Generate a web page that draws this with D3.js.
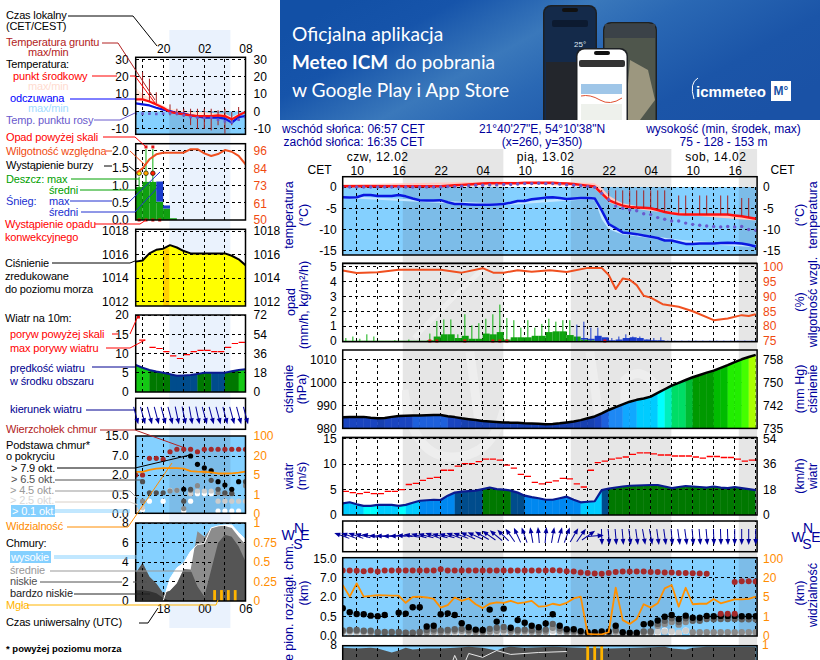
<!DOCTYPE html>
<html><head><meta charset="utf-8">
<script src="https://cdn.jsdelivr.net/npm/d3@7"></script>
<style>html,body{margin:0;padding:0;background:#fff;overflow:hidden}svg{display:block}text{font-family:"Liberation Sans",Arial,sans-serif}</style>
</head><body><svg id="c" width="820" height="660"></svg>
<script>
// ---------- main chart data (hour 8 = 12.02 08:00 local; one value per hour up to hour 67) ----------
const hoursMain = d3.range(8, 68);
const tempMean = [.2,.2,.2,.2,.2,.2,.2,.2,.2,.2, .2,.2,.2,.2,.2,.3,.4,.5,.6,.7, .8,.9,.9,.9,.9,.9,1,1,1,1, 1,.9,.8,.7,.5,.3,.1,-1.5,-3.1,-3.8, -4.4,-4.7,-4.8,-4.9,-5,-5.4,-5.9,-6.2,-6.4,-6.5, -6.5,-6.5,-6.5,-6.5,-6.5,-6.5,-6.7,-6.9,-7.2,-7.5];
const feelsLike = [-2.4,-2.5,-2.4,-1.9,-1.9,-2.1,-2.1,-2.1,-1.9,-2.2, -2.7,-3.1,-3.2,-3.2,-3.1,-3.6,-4,-4,-4.1,-4.2, -4.2,-4.2,-4.1,-4,-3.7,-3.3,-3.3,-2.9,-2.7,-2.5, -2.4,-2.6,-2.8,-2.7,-2.6,-2.6,-2.7,-5.5,-8.7,-9.7, -10.7,-10.9,-11.1,-11.4,-11.7,-12,-12.6,-12.6,-13,-13.4, -13.4,-13.3,-13.3,-13.3,-13.2,-13.1,-13.2,-13.3,-13.6,-14];
const dewPoint = [0,0,0,0,0,0,0,0,0,0, 0,0,0,0,0,.1,.1,.2,.3,.4, .4,.5,.5,.6,.6,.7,.8,.8,.9,.8, .8,.7,.5,.4,.3,.1,-.1,-1.5,-3,-4.5, -5,-5.4,-5.6,-6.3,-6.5,-7.2,-7.6,-8,-8,-8.5, -8.8,-9,-9.2,-9.3,-9.4,-9.3,-9.4,-9.3,-10,-10.2];
const bandHours = [8,30,43,44,45,46,47,48,50,56,67];
const tempBandHi = [.6,1.3,1,.9,-.2,-2,-3,-3.8,-4.5,-6,-7.1];
const tempBandLo = [.1,.8,.2,-.4,-1.9,-3.6,-4.2,-4.8,-5.2,-6.5,-7.9];
const feelsBandHi = [-2.1,-3.9,-2.3,-2.4,-5.3,-8.5,-9.5,-10.5,-11,-12.4,-13.8];
const feelsBandLo = [-2.6,-4.4,-2.9,-3.2,-7.6,-9.9,-10.6,-11.2,-11.6,-13,-14.2];
const soilHours = [45,46,47,48,49,50,51,52,53,54,56,57,59,60,62,63,65,66];
const soilMax = [-.7,-.8,-.8,-.8,-.8,-.8,-.8,-.8,-.8,-.8,-2,-2,-2,-2,-2,-2,-2.6,-2.6];
const soilMin = [-1.5,-3,-4,-4.5,-4.7,-4.8,-5,-5,-5.4,-5.9,-6.2,-6.4,-6.5,-6.5,-6.5,-6.5,-6.9,-7.2];
const humHours = [8,10,13,16,19,22,25,28,29.5,31,33,35,37.6,40,43,45,46,47,48,49,50,51,52,53.7,56,58,61,63,65,66,67];
const humidity = [98.7,97.9,98.1,99,99,99,98,99.5,98,98,98.8,98.3,98.8,98.2,99.6,99.6,97.2,92.5,96,95.6,93.8,90.2,89.6,87.4,86.5,85,82,82.6,83.7,83.4,84];
const rainMax = [.2,.3,.15,.45,.3,0,0,.05,0,.1, 0,0,.5,1.35,1.45,1.45,.45,1.8,1.05,1.2, 1.5,1.8,2.45,1.55,1.4,.9,1.4,.9,1.15,1.5, 1.3,1.4,1.4,0,0,0,0,0,0,0, 0,0,0,0,0,0,0,0,0,0, 0,0,0,0,0,0,0,0,0,0];
const snowMax = [0,0,0,0,0,0,0,0,0,0, 0,0,0,0,0,0,0,0,0,0, 0,0,0,0,0,0,0,0,0,0, 0,0,0,1.1,1.3,.9,.9,0,.2,.3, .45,.3,.3,.1,.2,.25,.02,.02,.02,.02, .02,.02,.02,.02,.02,.02,.02,.02,.02,.02];
const rainMean = [.02,.02,.02,.02,.02,.02,.02,.02,.02,.02, .02,.02,.05,.3,.45,.45,.2,.35,.15,.15, .5,.45,.6,.1,.25,.25,.25,.35,.35,.6, .65,.65,.4,.3,.1,.05,0,0,0,0, 0,0,0,0,0,0,0,0,0,0, 0,0,0,0,0,0,0,0,0,0];
const snowMean = [0,0,0,0,0,0,0,0,0,0, 0,0,0,0,0,0,0,0,0,0, 0,0,0,0,0,0,0,0,0,0, 0,0,0,0,.1,.1,.35,.25,.05,.1, .2,.25,.2,.1,.05,.05,.01,.01,.01,.01, .01,.01,.01,.01,.01,.01,.01,.01,.01,.01];
const convective = [20,21,25,29,30,31,45];
const pressure = [984.8,984.9,984.9,985,984.6,984.4,984.5,985,985.4,985.5, 985.6,985.6,985.7,985.8,985.8,985.3,984.9,984.4,984,983.6, 983.2,983,982.8,982.6,982.5,982.4,982.2,982.1,982,981.8, 981.9,982.2,982.6,983,983.6,984.4,985.2,986.5,988,989.2, 990.4,991.6,992.4,993,993.8,995.4,997,998.6,999.8,1001, 1002.2,1003.2,1004.2,1005.1,1006.3,1007.5,1008.8,1010,1011,1011.9];
const windMean = [2.3,2.5,2.1,1.8,1.8,2,2,2,1.8,2, 2.4,2.8,2.9,3,2.95,3.8,4.4,4.6,4.7,4.8, 5.1,5.4,5.1,5,4.8,4.4,3.8,3.5,3.3,3, 3,3.3,3.6,3,2.5,2.6,2.7,4.9,5.2,5.4, 5.6,5.75,5.8,5.85,5.9,5.9,5.6,5.3,5.5,5.7, 5.6,5.5,5.4,5.6,5.4,5.3,5.5,5.3,5.1,4.9];
const windGust = [4.65,4.4,4.2,4.45,4.2,4.2,4.65,4.65,5,6, 6.2,6.8,7.2,7.4,8.8,8.8,9.6,10.1,10.1,10.5, 11,11,10.8,9.8,9.2,8,7.6,6.4,6.1,6.4, 6.7,7.2,7.1,6.1,5.5,8.8,10.3,10.6,11,11.2, 11.4,11.9,12.2,12.2,12,11.8,11.8,11.6,11.6,11.6, 11.4,11.2,11.5,11.5,11.3,11.3,11,10.6,10.8,10.8];
const windDir = [290,290,290,285,280,272,270,268,270,275, 280,285,285,290,285,285,290,290,295,295, 300,305,310,315,325,335,340,350,355,5, 10,15,20,30,35,55,85,178,175,175, 175,173,172,170,170,172,172,175,172,172, 175,175,175,178,178,178,180,180,180,180];
const cloudTop = [10,10,9.9,9.7,10,9.6,10,10,10,10, 10,10,10,10,10.6,10,10,10,10,10, 10,10,10,10,10,10,10,10,10,10, 10.1,10,9.7,9.6,9.2,9,8.8,8.7,9,9.4, 9.6,9.6,9.6,9.6,9.4,9.4,9.2,9.2,9,9, 8.9,8.8,8.7,null,null,null,5.9,6.1,6.1,6];
const cloudTopLow = [62,63,64];
const cloudTopLowKm = [.7,.7,.7];
const cloud79 = [1.12,.81,.68,.66,.55,.5,.6,null,.78,.71, 1.2,1.2,.23,.25,.66,.73,.6,.32,.21,.15, .14,1.02,.36,1.1,.2,.4,.33,.25,.21,.31, .66,.25,.16,.16,.11,.08,.08,.1,.1,.25, .08,.07,.07,.29,.31,.39,.49,.6,.43,.55, .46,.46,.53,.5,.53,.53,.53,.5,.5,.5];
const cloud65 = [.13,.14,.14,.12,.12,.09,.09,.09,.09,.07, .07,.09,.14,.15,.13,.14,.16,.17,.14,.13, .12,.17,.2,.22,.15,.14,.15,.14,.13,.15, .3,.18,.12,.12,.09,null,.06,.06,null,.14, null,null,.05,.1,.1,.3,.38,.45,.35,.45, .38,.38,.43,.42,.43,.43,.43,.42,.42,.42];
const cloud45 = [.1,.11,.11,.1,.09,.07,.07,.07,.06,.06, .06,.06,.08,.1,.09,.1,.12,.12,.1,.09, .09,.1,.12,.13,.1,.1,.11,.1,.09,.1, .2,.12,.09,.08,.06,.04,.04,.04,.05,.1, .05,.05,.05,.08,.08,.25,.3,.35,.28,.35, .08,.08,.08,.08,.08,.08,.08,.08,.08,.08];
const cloud25 = [.08,.08,.08,.07,.05,null,null,null,null,null, .04,null,.05,.06,.06,.07,.09,.09,.08,.07, .06,.07,.08,.09,.08,.08,.08,.08,.06,.08, .12,.08,.05,.04,.03,.02,.02,.02,.03,.05, .03,.03,.03,.05,.05,.1,.1,.1,.07,.12, .06,.05,.05,.06,.06,.05,.05,.05,.05,.05];
const cloud01 = [.05,.05,.05,.04,.03,null,null,null,null,null, .03,.03,.03,.04,.04,.04,.05,.05,.05,.05, .04,.04,.05,.06,.05,.05,.06,.05,.04,.05, .05,.05,.03,.02,.02,.02,.02,.02,.03,.1, .02,.02,.02,.03,.03,.04,.12,.05,.04,.12, .05,.04,.04,.04,.04,.04,.04,.04,.04,.04];
const visibility = [14.3,5.3,15.6,5.3,5.8,6.5,6.3,6,6,3.8, 5,5.3,4.9,4.6,2.8,3.3,4.9,4.2,4.7,3.5, 2.7,3.6,3.9,3.8,4.2,3.7,3.9,4.2,3,3.1, 3.6,3.3,3.8,4.7,5.3,.07,.05,.05,.16,12.2, .8,.6,.86,3.5,2.8,3.7,11.7,14.3,3,12.2, 3.5,3.6,3.6,4.6,3.7,4.1,4.5,4.5,4.6,5.3];
const coverHours = [8,10,12,13,15,16,17,18,20,22,24,26,28,30,31,32,34,38,42,46,50,54,55,57,58,60,64,67];
const coverLow = [7.8,7.7,7.8,7.7,7.3,7.5,7.8,7.6,7.7,7.7,7.8,7.9,7.8,7.5,7.8,7.9,7.8,7.9,7.8,7.7,7.8,7.9,7.7,7.6,7.8,7.9,7.9,7.9];
const coverLineHours = [20,21,22,23,24,25,26,28,30,32,36,40];
const coverLine = [5.4,5.9,5.6,5,7,5.5,7.2,6.8,7.5,7.1,7.3,7.4];
const fogHours = [43,44,45];

const nights = [[16.58,30.95],[40.58,54.95],[64.58,67.2]];
const dayLabels = [{h:13,t:"czw, 12.02"},{h:37,t:"pią, 13.02"},{h:61.3,t:"sob, 14.02"}];

// ---------- sample (legend) chart data, hour 16..32 ----------
const hoursLeft = d3.range(16, 33);
const legendNight = [20.9,29.8];
const lTemp = [6.9,6.9,5.7,4,2.1,-.4,-1,-1.7,-2.3,-2.7,-2.7,-2.7,-2.3,-2.7,-4.6,-2.3,-.4];
const lFeels = [4.6,4,3.4,2.1,1,.2,-1,-1.3,-2.3,-2.9,-3.6,-3.6,-3.6,-4.2,-6.5,-3.3,-2.7];
const lDew = [-1.3,-1.3,-1.3,-1.5,-1.3,-1,-1.3,-2.3,-3.3,-3.6,-3.8,-3.6,-4.8,-5.7,-6.2,-4.8,-3.3];
const lTempBand = [13.6,10,8,5.4,3.4,1.5,1,.2,-.4,-.4,-.4,-1,-1.3,-1.3,-3.3,-1.3,.2];
const lSoilHours = [17,18,19,21,22,23,24,25,26,27,28,29,30,31];
const lSoilMax = [22.6,18.8,11,4,1.5,1.5,1.5,1.5,1.5,1.5,.6,1.5,-.4,2.5];
const lSoilMin = [6.3,5.4,4.4,-2.3,-2.3,-3.2,-8,-10,-10,-11,-8,-12.8,-8,-5.2];
const lHum = [81,84.3,90.3,93.6,94.7,94.7,94.7,94.7,97,97,94.2,92.5,93.8,96.4,95.3,92.5,87];
const lRain = [.95,1.1,1.1,.53,.33,.05];
const lSnow = [0,0,0,.58,.09,0];
const lRainMax = [1.25,2.05,2.05];
const lAboveScale = [17.5,18.5];
const lStorm = [16.5,17.5,18.5];
const lStormColors = ["#ffee00","#ffa500","#ff2000"];
const lConv = [16,17,18,19];
const lPress = [1015.4,1015.5,1016.1,1016.4,1016.5,1016.8,1016.6,1016.3,1016.1,1016.1,1016.1,1016.1,1016.1,1016.1,1015.9,1015.6,1015.1];
const lWind = [7,6.3,5.7,5.3,5,4.6,4.2,4.3,4.4,4.7,5,5,5,5,5.4,5.7,5.9];
const lWindColors = ["#14c814","#14c814","#007800","#007800","#007800","#004c8c","#004c8c","#004c8c","#004c8c","#007800","#007800","#004c8c","#004c8c","#007800","#007800","#14c814"];
const lGustHours = [16.5,18,19,20,21,22,23,24,25,26,27,28,29,30,31];
const lGust = [13.5,11.6,11.3,10.5,9.4,8.7,9.7,10.5,10.8,10.8,10.5,10.5,11.6,12.6,12.9];
const lDir = [165,165,165,165,165,165,168,168,170,168,165,165,165,165,165,165,165];
const lCloudTop = [2,2,6.4,6.4,6.1,8.7,9.7,9.7,9.7,8.7,9.7,9.7,9.7,9.7,9.7,9.7,9.7];
const l79 = [null,null,null,null,null,null,null,.93,7,4.8,3.9,3.1,1.5,1.25,.93,1.5,null];
const l65 = [null,1.5,.67,.67,.67,null,null,.33,.93,null,null,1.6,.93,.67,.62,null,1.5];
const l45 = [null,.33,null,null,null,.8,.85,.13,.85,1.2,3,3.2,.67,.6,.6,null,1.2];
const l25 = [.11,.15,null,null,null,.85,.85,null,.6,.8,.8,.8,.33,.33,.33,.33,.33];
const l01 = [.08,.1,.33,null,.33,null,null,.06,.33,.6,.6,.6,.06,.06,.06,.06,null];
const lVis = [7.5,7.5,9,10,10.5,10.5,10.5,10,8,7.6,7.4,7,6.2,6.2,6.3,6.8,7.6];
const lVeryLow = [1.1,1.1,1,.8,.3,0,0,0,0,0,0,0,0,0,0,0,0];
const lLow = [2.85,3.9,2.5,1.8,.8,1.05,1.8,3.25,3.2,1.5,.45,3.2,5.95,6.8,6.6,5.6,4.05];
const lMid = [2.85,3.9,2.5,1.8,.8,1.05,1.8,3.25,3.2,7.15,6.6,7.5,7.7,7.7,7.5,6.6,5.8];
const lHigh = [0,0,0,0,0,2.3,3.4,3.9,5.1,5.8,5.9,7.5,7.7,7.8,7.8,7,6.3];
const lFog = [27.5,28.5,29.5,30.5];
const lFogV = [.14,.14,.14,.14];

// ---------- tick labels ----------
const tempTicksMain = [0,-5,-10,-15];
const rainTicks = [0,1,2,3,4,5];
const humTicks = [75,80,85,90,95,100];
const pressTicks = [980,990,1000,1010];
const mmHgTicks = [735,742,750,758];
const windTicks = [0,5,10,15];
const kmhTicks = [0,18,36,54];
const cloudTicks = [0,.5,2,7,15];
const visTicks = [0,1,5,20,100];
const tempTicksLeft = [30,20,10,0,-10];
const lRainTicks = [0,.5,1,1.5,2];
const lHumTicks = [50,61,73,84,96];
const lPressTicks = [1012,1014,1016,1018];
const lWindTicks = [0,5,10,15,20];
const lKmhTicks = [0,18,36,54,72];
const coverTicks = [0,2,4,6,8];
const fogTicks = [0,.25,.5,.75,1];

// ---------- styles ----------
const NAVY="#00009c", SKY="#84d0ff", SKYN="#7cbce8", GRAYN="#e6e6e6", HUM="#f04a10", VIS="#ff8c00";
const svg=d3.select("#c");
const defs=svg.append("defs");
let clipN=0;
function clipRect(x,y,w,h){const id="cp"+(clipN++);defs.append("clipPath").attr("id",id).append("rect").attr("x",x).attr("y",y).attr("width",w).attr("height",h);return `url(#${id})`;}
function T(t,x,y,col,o={}){const e=svg.append("text").text(t).attr("x",x).attr("y",y).attr("fill",col||"#000").attr("font-size",o.s||11).attr("dominant-baseline","central");
 if(o.s==null)e.attr("letter-spacing",-.15);
 if(o.ls)e.attr("letter-spacing",o.ls);
 if(o.a)e.attr("text-anchor",o.a); if(o.w)e.attr("font-weight",o.w); if(o.f)e.style("font-family",o.f); if(o.r)e.attr("transform",`rotate(${o.r} ${x} ${y})`); return e;}
function L(pts,col,o={}){svg.append("path").attr("d",d3.line()(pts)).attr("fill","none").attr("stroke",col).attr("stroke-width",o.w||1);}
function yAxis(scale,vals,x,side,col,fmt,pad){
 const a=(side==="l"?d3.axisLeft(scale):d3.axisRight(scale)).tickValues(vals).tickSize(0).tickPadding(pad||6).tickFormat(fmt||(d=>d));
 const g=svg.append("g").attr("transform",`translate(${x},0)`).call(a);
 g.select(".domain").remove(); g.selectAll("text").attr("fill",col||"#000").attr("font-size",12).style("font-family",'"Liberation Sans",Arial,sans-serif');
}
function grid(x,y,hrs,vals,clip){
 const g=svg.append("g").attr("clip-path",clip).attr("stroke","#000").attr("stroke-width",1).attr("stroke-dasharray","3,3").attr("shape-rendering","crispEdges");
 g.selectAll(".v").data(hrs).join("line").attr("x1",d=>x(d)).attr("x2",d=>x(d)).attr("y1",y.range()[0]).attr("y2",y.range()[y.range().length-1]);
 g.selectAll(".h").data(vals).join("line").attr("x1",x.range()[0]).attr("x2",x.range()[1]).attr("y1",d=>y(d)).attr("y2",d=>y(d));
}
function frame(x0,x1,t,b){svg.append("rect").attr("x",x0).attr("y",t).attr("width",x1-x0).attr("height",b-t).attr("fill","none").attr("stroke","#000").attr("stroke-width",1.5);}
function lineOf(x,y,xs,ys,clip,col,w){return svg.append("path").datum(ys.map((v,i)=>[xs[i],v])).attr("fill","none").attr("stroke",col).attr("stroke-width",w).attr("clip-path",clip).attr("stroke-linejoin","round")
 .attr("d",d3.line().x(d=>x(d[0])).y(d=>y(d[1])));}
function areaOf(x,y,xs,hi,lo,clip,col){svg.append("path").datum(hi.map((v,i)=>[xs[i],v,Array.isArray(lo)?lo[i]:lo])).attr("fill",col).attr("clip-path",clip)
 .attr("d",d3.area().x(d=>x(d[0])).y0(d=>y(d[2])).y1(d=>y(d[1])));}
function dots(x,y,xs,vals,r,col,clip){svg.append("g").attr("clip-path",clip).selectAll("circle").data(vals.map((v,i)=>[xs[i],v]).filter(d=>d[1]!=null)).join("circle").attr("cx",d=>x(d[0])).attr("cy",d=>y(d[1])).attr("r",r).attr("fill",col);}
function arrows(x,yc,xs,dirs,len,hw){
 const g=svg.append("g").attr("fill",NAVY).attr("stroke",NAVY);
 const s=g.selectAll("g").data(dirs.map((d,i)=>[xs[i],d])).join("g").attr("transform",d=>`translate(${x(d[0])},${yc}) rotate(${d[1]})`);
 s.append("line").attr("y1",len/2).attr("y2",-len/2+2).attr("stroke-width",1);
 s.append("path").attr("d",`M0 ${-len/2-2} L${hw} ${-len/2+4} L${-hw} ${-len/2+4} Z`).attr("stroke","none");
}

// ---------- banner ----------
const bg=defs.append("linearGradient").attr("id","bn").attr("x1","0").attr("x2","1").attr("y1","0.3").attr("y2","0.7");
[[0,"#1250a6"],[.18,"#1654aa"],[.4,"#3a78bb"],[.55,"#2a68b4"],[.8,"#1b55a8"],[1,"#1a52a6"]].forEach(s=>bg.append("stop").attr("offset",s[0]).attr("stop-color",s[1]));
svg.append("rect").attr("x",280).attr("y",0).attr("width",540).attr("height",120).attr("fill","url(#bn)");
const bf="Lato,sans-serif";
T("Oficjalna aplikacja",292,33.5,"#fff",{s:19.2,f:bf});
T("Meteo ICM",292,61.5,"#fff",{s:19.2,f:bf,w:700}).attr("textLength",96).attr("lengthAdjust","spacingAndGlyphs");
T("do pobrania",395,61.5,"#fff",{s:19.2,f:bf});
T("w Google Play i App Store",292,89.5,"#fff",{s:19.2,f:bf});
function phone(x,y,w,fill){const g=svg.append("g").attr("clip-path",clipRect(280,0,540,120));
 g.append("rect").attr("x",x).attr("y",y).attr("width",w).attr("height",130).attr("rx",8).attr("fill","#1d2024");
 g.append("rect").attr("x",x+1.5).attr("y",y+1.5).attr("width",w-3).attr("height",130).attr("rx",7).attr("fill",fill);
 g.append("rect").attr("x",x+w/2-8).attr("y",y+3).attr("width",16).attr("height",4).attr("rx",2).attr("fill","#111");return g;}
const p1=phone(543,5,54,"#142a4a");
p1.append("rect").attr("x",552).attr("y",20).attr("width",36).attr("height",7).attr("rx",2).attr("fill","#0c1a30");
p1.append("text").text("25°").attr("x",574).attr("y",47).attr("fill","#dfe8f2").attr("font-size",8);
p1.append("rect").attr("x",546).attr("y",62).attr("width",48).attr("height",60).attr("fill","#23262c");
const p2=phone(603,22,54,"#4f564c");
p2.append("rect").attr("x",605).attr("y",24).attr("width",50).attr("height",14).attr("fill","#3b4248");
p2.append("path").attr("d","M630 60 L648 70 L655 100 L640 120 L625 120 Z").attr("fill","#9c977f");
const p3=phone(576,48,52,"#fff");
p3.append("rect").attr("x",579).attr("y",60).attr("width",46).attr("height",7).attr("rx",2).attr("fill","#333");
p3.append("rect").attr("x",581).attr("y",84).attr("width",41).attr("height",10).attr("fill","#9fc6e8");
p3.append("path").attr("d","M581 96 Q590 94 600 100 T622 98").attr("fill","none").attr("stroke","#e05030").attr("stroke-width",1);
p3.append("rect").attr("x",581).attr("y",104).attr("width",41).attr("height",16).attr("fill","#eef1ec");
T("icmmeteo",696,91,"#fff",{s:15,w:700});
svg.append("path").attr("d","M694 99 Q689 83 698 78").attr("fill","none").attr("stroke","#fff").attr("stroke-width",1);
svg.append("rect").attr("x",771).attr("y",81).attr("width",20).attr("height",20).attr("fill","#fff");
T("M°",781,91,"#1a52a6",{s:12,w:700,a:"middle"});

// ---------- header ----------
T("wschód słońca: 06:57 CET",282,128.5,NAVY,{s:12});
T("zachód słońca: 16:35 CET",283.5,141.5,NAVY,{s:12});
T("21°40'27\"E, 54°10'38\"N",542,128.5,NAVY,{s:12,a:"middle"});
T("(x=260,  y=350)",542,141.5,NAVY,{s:12,a:"middle"});
T("wysokość (min, środek, max)",723.5,128.5,NAVY,{s:12,a:"middle"});
T("75 - 128 - 153 m",723.5,141.5,NAVY,{s:12,a:"middle"});

// ---------- main chart ----------
const xM=d3.scaleLinear().domain([8,67.2]).range([342.7,757.1]);
const grid3=d3.range(10,68,3);
svg.selectAll(".nightM").data(nights).join("rect").attr("x",d=>xM(d[0])).attr("width",d=>xM(d[1])-xM(d[0])).attr("y",149).attr("height",511).attr("fill",GRAYN);
// faint watermark shapes inside the night bands
const wm=svg.append("g").attr("fill","none").attr("stroke","#eeeeee").attr("stroke-width",9).attr("clip-path",clipRect(402,262,103,260));
wm.append("path").attr("d","M404 390 Q412 455 450 457 Q492 458 504 410");
wm.append("path").attr("d","M470 352 L480 430");
wm.append("path").attr("d","M414 338 Q440 310 490 262").attr("stroke-width",5);
const wm2=svg.append("g").attr("fill","none").attr("stroke","#eeeeee").attr("stroke-width",9).attr("clip-path",clipRect(571,345,101,90));
wm2.append("path").attr("d","M590 352 L600 425");wm2.append("path").attr("d","M625 425 L625 380 Q640 365 655 385 L655 425");
dayLabels.forEach(d=>T(d.t,xM(d.h),157,"#000",{s:12,a:"middle",ls:.5}));
T("CET",319.5,170,"#000",{s:12,a:"middle"});T("CET",782.5,170,"#000",{s:12,a:"middle"});
const ha=d3.axisTop(xM).tickValues(d3.range(10,68,6)).tickSize(0).tickPadding(0).tickFormat(d=>d3.format("02")(d%24));
const hg=svg.append("g").attr("transform","translate(0,175)").call(ha);hg.select(".domain").remove();hg.selectAll("text").attr("font-size",12).attr("fill","#000").style("font-family",'"Liberation Sans"');

function nightFill(x,y0,y1,col,clip){svg.selectAll(null).data(nights).join("rect").attr("x",d=>x(d[0])).attr("width",d=>x(d[1])-x(d[0])).attr("y",y0).attr("height",y1-y0).attr("fill",col).attr("clip-path",clip);}
function rot(t,x,y,col,s){T(t,x,y,col||NAVY,{s:s||12.5,a:"middle",r:-90});}

// temperature
const cT=clipRect(342.7,176.7,414.4,78.3);
const yT=d3.scaleLinear().domain([0,-15]).range([187,250.7]);
svg.append("rect").attr("x",342.7).attr("width",414.4).attr("y",yT(0)).attr("height",255-yT(0)).attr("fill",SKY);
nightFill(xM,yT(0),255,SKYN,cT);
areaOf(xM,yT,bandHours,tempBandHi,tempBandLo,cT,"#ffc8c0");
areaOf(xM,yT,bandHours,feelsBandHi,feelsBandLo,cT,"#c4e6ff");
grid(xM,yT,grid3,tempTicksMain,cT);
lineOf(xM,yT,hoursMain,tempMean,cT,"#ff1010",2.5);
svg.append("g").attr("clip-path",cT).attr("stroke","#a52020").attr("stroke-width",1).selectAll("line").data(soilHours).join("line").attr("x1",d=>xM(d)).attr("x2",d=>xM(d)).attr("y1",(d,i)=>yT(soilMax[i])).attr("y2",(d,i)=>yT(soilMin[i]));
lineOf(xM,yT,hoursMain,feelsLike,cT,"#0a18e0",2.5);
dots(xM,yT,hoursMain,dewPoint,1.7,"#6a5acd",cT);
frame(342.7,757.1,176.7,255);
yAxis(yT,tempTicksMain,342.7,"l");yAxis(yT,tempTicksMain,757.1,"r");

// rain / humidity
const cR=clipRect(342.7,263,414.4,78.7);
const yR=d3.scaleLinear().domain([0,5]).range([341,266.7]);
const yH=d3.scaleLinear().domain([75,100]).range([341,266.7]);
grid(xM,yR,grid3,rainTicks.filter(d=>d>0),cR);
function barsRain(x,y,hs,vals,base,col,clip){svg.append("g").attr("clip-path",clip).attr("fill",col).selectAll("rect").data(hs.map((h,i)=>[h,vals[i],base?base[i]:0]).filter(d=>d[1]>0)).join("rect").attr("x",d=>x(d[0])).attr("width",d=>x(d[0]+1)-x(d[0])).attr("y",d=>y(d[1]+d[2])).attr("height",d=>y(d[2])-y(d[1]+d[2]));}
barsRain(xM,yR,hoursMain,rainMean,null,"#10a010",cR);
barsRain(xM,yR,hoursMain,snowMean,rainMean,"#1c3ccc",cR);
function spikes(hs,vals,col){svg.append("g").attr("stroke",col).attr("clip-path",cR).selectAll("line").data(hs.map((h,i)=>[h,vals[i]]).filter(d=>d[1]>0)).join("line").attr("x1",d=>xM(d[0]+.45)).attr("x2",d=>xM(d[0]+.45)).attr("y1",d=>yR(d[1])).attr("y2",yR(0));}
spikes(hoursMain,rainMax,"#10b010");spikes(hoursMain,snowMax,"#1c3ccc");
svg.append("g").attr("fill","#e01010").selectAll("rect").data(convective).join("rect").attr("x",d=>xM(d+.45)-1.5).attr("y",yR(0)-1.5).attr("width",3).attr("height",3);
lineOf(xM,yH,humHours,humidity,cR,"#f05020",2);
L([[342,262.5],[757,262.5]],"#888");
frame(342.7,757.1,263.5,341.7);
yAxis(yR,rainTicks,342.7,"l");yAxis(yH,humTicks,757.1,"r",HUM);

// pressure
const cP=clipRect(342.7,350,414.4,78.4);
const yP=d3.scaleLinear().domain([980,1010]).range([428.4,359.3]);
const yMM=d3.scaleLinear().domain(mmHgTicks).range([428.4,405.7,382.3,359.3]);
const pressColor=d3.scaleThreshold().domain([984.5,985.6,988,990,992,994,996,998,1000,1002,1005,1007,1009,1010.5]).range(["#1740b0","#1a45c0","#1e60dc","#1e88f4","#10a8ff","#00ccff","#00ffff","#00eebb","#00dd66","#00bb33","#009900","#00bb00","#22ee00","#44ff00","#aaff00"]);
grid(xM,yP,grid3,pressTicks,cP);
const idP="pa";defs.append("clipPath").attr("id",idP).append("path").attr("d",d3.area().x((d,i)=>xM(hoursMain[i])).y0(428.4).y1(d=>yP(d))(pressure));
svg.append("g").attr("clip-path",`url(#${idP})`).selectAll("rect").data(pressure).join("rect").attr("x",(d,i)=>xM(hoursMain[i])).attr("width",7.2).attr("y",350).attr("height",79).attr("fill",d=>pressColor(d));
lineOf(xM,yP,hoursMain,pressure,cP,"#000",2.5);
frame(342.7,757.1,350,428.4);
yAxis(yP,pressTicks,342.7,"l");yAxis(yMM,mmHgTicks,757.1,"r");

// wind
const cW=clipRect(342.7,437.7,414.4,77.3);
const yW=d3.scaleLinear().domain([0,15]).range([515,438.7]);
const yK=d3.scaleLinear().domain([0,54]).range([515,438.7]);
const windColor=d3.scaleThreshold().domain([2,2.8,4.2,5,6]).range(["#00ffff","#00ccff","#0088f0","#004c8c","#007800","#14c814"]);
const idW="wa";defs.append("clipPath").attr("id",idW).append("path").attr("d",d3.area().x((d,i)=>xM(hoursMain[i])).y0(515).y1(d=>yW(d))(windMean));
svg.append("g").attr("clip-path",`url(#${idW})`).selectAll("rect").data(windMean).join("rect").attr("x",(d,i)=>xM(hoursMain[i])).attr("width",7.2).attr("y",437).attr("height",78).attr("fill",d=>windColor(d));
grid(xM,yW,grid3,windTicks.filter(d=>d>0),cW);
lineOf(xM,yW,hoursMain,windMean,cW,"#0a1a90",2.2);
svg.append("g").attr("clip-path",cW).attr("stroke","#ff0000").attr("stroke-width",1.3).selectAll("line").data(windGust).join("line").attr("x1",(d,i)=>xM(hoursMain[i])).attr("x2",(d,i)=>xM(hoursMain[i]+.9)).attr("y1",d=>yW(d)).attr("y2",d=>yW(d));
L([[342,436.8],[757,436.8]],"#888");
frame(342.7,757.1,437.7,515);
yAxis(yW,windTicks,342.7,"l");yAxis(yK,kmhTicks,757.1,"r");

// wind direction
const yD=d3.scaleLinear().domain([0,1]).range([551.7,521]);
grid(xM,yD,grid3,[],clipRect(342.7,521,414.4,30.7));
frame(342.7,757.1,521,551.7);
arrows(xM,536,hoursMain,windDir,14,2.4);

// clouds
const cC=clipRect(342.7,557.7,414.4,78.3);
const yC=d3.scaleLinear().domain([0,.5,2,7,15]).range([635.3,616.3,597,577.7,558.7]);
const yV=d3.scaleLinear().domain([0,1,5,20,100]).range([635.3,616.3,597,577.7,558.7]);
svg.append("rect").attr("x",342.7).attr("y",557.7).attr("width",414.4).attr("height",78.3).attr("fill",SKY);
nightFill(xM,557.7,636,SKYN,cC);
grid(xM,yC,grid3,cloudTicks.filter(d=>d>0&&d<15),cC);
dots(xM,yC,hoursMain,cloud01,3.2,"#ffffff",cC);
dots(xM,yC,hoursMain,cloud25,3.2,"#cccccc",cC);
dots(xM,yC,hoursMain,cloud45,3.2,"#8a8a8a",cC);
dots(xM,yC,hoursMain,cloud65,3.2,"#606060",cC);
dots(xM,yC,hoursMain,cloud79,3.2,"#000000",cC);
dots(xM,yC,hoursMain,cloudTop,3,"#a52a2a",cC);
dots(xM,yC,cloudTopLow,cloudTopLowKm,3,"#a52a2a",cC);
lineOf(xM,yV,hoursMain,visibility,cC,"#ff9000",1.8);
frame(342.7,757.1,557.7,636);
const fmt1=d=>d3.format(".1f")(d);
yAxis(yC,cloudTicks,342.7,"l","#000",fmt1);yAxis(yV,visTicks,757.1,"r",VIS);

// cloud cover (cut by the picture edge)
const cK=clipRect(342.7,645.7,414.4,20);
const yO=d3.scaleLinear().domain([0,8]).range([723.3,645.7]);
svg.append("rect").attr("x",342.7).attr("y",645.7).attr("width",414.4).attr("height",20).attr("fill",SKY);
areaOf(xM,yO,coverHours,coverLow,0,cK,"#4f4f4f");
grid(xM,yO,grid3,[],cK);
lineOf(xM,yO,coverLineHours,coverLine,cK,"#e8e8e8",1);
svg.append("g").attr("fill","#ffb400").attr("clip-path",cK).selectAll("rect").data(fogHours).join("rect").attr("x",d=>xM(d)-1.4).attr("width",2.8).attr("y",645.7).attr("height",20);
frame(342.7,757.1,645.7,668);
T("8",337,645,"#000",{s:12,a:"end"});T("1",762,645,VIS,{s:12});

// rotated labels
rot("temperatura",289,215);rot("(°C)",304,215);
rot("(°C)",800,215);rot("temperatura",813,215);
rot("opad",291,302);rot("(mm/h, kg/m²/h)",304,305);
rot("(%)",800,302);rot("wilgotność wzgl.",813,302);
rot("ciśnienie",289,389);rot("(hPa)",302,389);
rot("(mm Hg)",800,389);rot("ciśnienie",813,389);
rot("wiatr",289,476);rot("(m/s)",302,476);
rot("(km/h)",800,476);rot("wiatr",813,476);
rot("e pion. rozciągł. chm.",289,602);rot("(km)",304,593);
rot("(km)",800,593);rot("widzialność",813,595);
[[288,535,"W"],[299,528,"N"],[305,535,"E"],[298,544,"S"],[798,537,"W"],[808,528,"N"],[816,537,"E"],[807,544,"S"]].forEach(d=>T(d[2],d[0],d[1],NAVY,{s:14,a:"middle"}));

// ---------- sample chart ----------
const xL=d3.scaleLinear().domain([16,32]).range([135.7,245.5]);
const LW=109.8;
svg.append("rect").attr("x",xL(legendNight[0])).attr("width",xL(legendNight[1])-xL(legendNight[0])).attr("y",30).attr("height",598).attr("fill","#eaf2fd");
const lHrs=d3.range(17,33,3);
function lclip(t,b){return clipRect(135.7,t,LW,b-t);}
// temp
const cLT=lclip(57.3,134.3), yLT=d3.scaleLinear().domain([30,-10]).range([59.3,128.7]);
svg.append("rect").attr("x",135.7).attr("width",LW).attr("y",yLT(0)).attr("height",134.3-yLT(0)).attr("fill",SKY);
svg.append("rect").attr("x",xL(legendNight[0])).attr("width",xL(legendNight[1])-xL(legendNight[0])).attr("y",yLT(0)).attr("height",134.3-yLT(0)).attr("fill",SKYN);
areaOf(xL,yLT,hoursLeft,lTempBand,lTemp,cLT,"#ffe4d8");
grid(xL,yLT,lHrs,tempTicksLeft,cLT);
svg.append("g").attr("stroke","#a52020").attr("clip-path",cLT).selectAll("line").data(lSoilHours).join("line").attr("x1",d=>xL(d)).attr("x2",d=>xL(d)).attr("y1",(d,i)=>yLT(lSoilMax[i])).attr("y2",(d,i)=>yLT(lSoilMin[i]));
lineOf(xL,yLT,hoursLeft,lFeels,cLT,"#0a18e0",2.2);
lineOf(xL,yLT,hoursLeft,lTemp,cLT,"#ff1010",2.2);
svg.append("g").attr("fill","#6a5acd").attr("clip-path",cLT).selectAll("rect").data(lDew).join("rect").attr("x",(d,i)=>xL(hoursLeft[i])-1.3).attr("y",d=>yLT(d)-1.3).attr("width",2.6).attr("height",2.6);
frame(135.7,245.5,57.3,134.3);
yAxis(yLT,tempTicksLeft,135.7,"l","#000",null,7);yAxis(yLT,tempTicksLeft,245.5,"r","#000",null,8);
// rain
const cLR=lclip(143.7,220), yLR=d3.scaleLinear().domain([0,2]).range([220,150.7]), yLH=d3.scaleLinear().domain([50,96]).range([220,150.7]);
grid(xL,yLR,lHrs,lRainTicks.filter(d=>d>0),cLR);
const lRainHours=hoursLeft.slice(0,6);
barsRain(xL,yLR,lRainHours,lRain,null,"#10a010",cLR);
barsRain(xL,yLR,lRainHours,lSnow,lRain,"#1c3ccc",cLR);
svg.append("g").attr("stroke","#10b010").selectAll("line").data(lRainMax).join("line").attr("x1",(d,i)=>xL(lStorm[i])).attr("x2",(d,i)=>xL(lStorm[i])).attr("y1",d=>yLR(d)).attr("y2",yLR(.9));
svg.append("g").attr("fill","#e01010").selectAll("rect").data(lAboveScale).join("rect").attr("x",d=>xL(d)-1.5).attr("y",145.5).attr("width",3).attr("height",3);
svg.append("g").selectAll("circle").data(lStorm).join("circle").attr("cx",d=>xL(d)).attr("cy",yLR(1.35)).attr("r",2.3).attr("fill",(d,i)=>lStormColors[i]).attr("stroke","#000").attr("stroke-width",.6);
svg.append("g").attr("fill","#e01010").selectAll("rect").data(lConv).join("rect").attr("x",d=>xL(d+.5)-1.5).attr("y",yLR(0)-1.5).attr("width",3).attr("height",3);
lineOf(xL,yLH,hoursLeft,lHum,cLR,"#f05020",2);
frame(135.7,245.5,143.7,220);
yAxis(yLR,lRainTicks,135.7,"l","#000",fmt1,7);yAxis(yLH,lHumTicks,245.5,"r",HUM,null,8);
// pressure
const cLP=lclip(229.3,306), yLP=d3.scaleLinear().domain([1012,1018]).range([301.7,231]);
areaOf(xL,yLP,hoursLeft,lPress,1011,cLP,"#ffff00");
svg.append("rect").attr("x",xL(20)).attr("width",xL(20.9)-xL(20)).attr("y",240).attr("height",66).attr("fill","#ffd000").attr("clip-path",clipRect(xL(20),248,10,60));
grid(xL,yLP,lHrs,lPressTicks,cLP);
lineOf(xL,yLP,hoursLeft,lPress,cLP,"#000",2);
frame(135.7,245.5,229.3,306);
yAxis(yLP,lPressTicks,135.7,"l","#000",null,7);yAxis(yLP,lPressTicks,245.5,"r","#000",null,8);
// wind
const cLW=lclip(315,392), yLW=d3.scaleLinear().domain([0,20]).range([392,315]), yLK=d3.scaleLinear().domain([0,72]).range([392,315]);
const idLW="lw";defs.append("clipPath").attr("id",idLW).append("path").attr("d",d3.area().x((d,i)=>xL(hoursLeft[i])).y0(392).y1(d=>yLW(d))(lWind));
svg.append("g").attr("clip-path",`url(#${idLW})`).selectAll("rect").data(lWindColors).join("rect").attr("x",(d,i)=>xL(hoursLeft[i])).attr("width",7.2).attr("y",315).attr("height",77).attr("fill",d=>d);
grid(xL,yLW,lHrs,lWindTicks.filter(d=>d>0),cLW);
lineOf(xL,yLW,hoursLeft,lWind,cLW,"#0a1a90",2);
svg.append("g").attr("stroke","#ff0000").attr("stroke-width",1.2).attr("clip-path",cLW).selectAll("line").data(lGust).join("line").attr("x1",(d,i)=>xL(lGustHours[i])).attr("x2",(d,i)=>xL(lGustHours[i]+.92)).attr("y1",d=>yLW(d)).attr("y2",d=>yLW(d));
svg.append("rect").attr("x",xL(16.4)-1.5).attr("y",315.5).attr("width",3).attr("height",3).attr("fill","#e01010");
frame(135.7,245.5,315,392);
yAxis(yLW,lWindTicks,135.7,"l","#000",null,7);yAxis(yLK,lKmhTicks,245.5,"r","#000",null,8);
// direction
grid(xL,yLW.copy().range([429.3,398.3]),lHrs,[],lclip(398.3,429.3));
frame(135.7,245.5,398.3,429.3);
arrows(xL,414.5,hoursLeft,lDir,16,2.4);
// clouds
const cLC=lclip(436,513.3), yLC=d3.scaleLinear().domain([0,.5,2,7,15]).range([513.3,495,475,456,436]), yLV=d3.scaleLinear().domain([0,1,5,20,100]).range([513.3,495,475,456,436]);
svg.append("rect").attr("x",135.7).attr("y",436).attr("width",LW).attr("height",77.3).attr("fill",SKY);
svg.append("rect").attr("x",xL(legendNight[0])).attr("width",xL(legendNight[1])-xL(legendNight[0])).attr("y",436).attr("height",77.3).attr("fill",SKYN);
grid(xL,yLC,lHrs,cloudTicks.filter(d=>d>0&&d<15),cLC);
dots(xL,yLC,hoursLeft,l01,2.6,"#ffffff",cLC);
dots(xL,yLC,hoursLeft,l25,2.6,"#cccccc",cLC);
dots(xL,yLC,hoursLeft,l45,2.6,"#8a8a8a",cLC);
dots(xL,yLC,hoursLeft,l65,2.6,"#505050",cLC);
dots(xL,yLC,hoursLeft,l79,2.6,"#000000",cLC);
dots(xL,yLC,hoursLeft,lCloudTop,2.6,"#a52a2a",cLC);
lineOf(xL,yLV,hoursLeft,lVis,cLC,"#ff9000",1.8);
frame(135.7,245.5,436,513.3);
yAxis(yLC,cloudTicks,135.7,"l","#000",fmt1,7);yAxis(yLV,visTicks,245.5,"r",VIS,null,8);
// cover
const cLK=lclip(523,601), yLO=d3.scaleLinear().domain([0,8]).range([601,523]), yLF=d3.scaleLinear().domain([0,1]).range([601,523]);
svg.append("rect").attr("x",135.7).attr("y",523).attr("width",LW).attr("height",78).attr("fill",SKY);
areaOf(xL,yLO,hoursLeft,lHigh,0,cLK,"#ffffff");
areaOf(xL,yLO,hoursLeft,lMid,0,cLK,"#8c8c8c");
grid(xL,yLO,lHrs,coverTicks,cLK);
areaOf(xL,yLO,hoursLeft,lLow,0,cLK,"#555555");
areaOf(xL,yLO,hoursLeft,lVeryLow,0,cLK,"#333333");
grid(xL,yLO,lHrs,[],cLK);
lineOf(xL,yLO,hoursLeft,lHigh,cLK,"#ffffff",1);
svg.append("g").attr("fill","#ffb400").selectAll("rect").data(lFog).join("rect").attr("x",d=>xL(d)-1.4).attr("width",2.8).attr("y",(d,i)=>yLF(lFogV[i])).attr("height",(d,i)=>601-yLF(lFogV[i]));
frame(135.7,245.5,523,601);
yAxis(yLO,coverTicks,135.7,"l","#000",null,7);yAxis(yLF,fogTicks,245.5,"r",VIS,null,8);
// top and bottom hour labels
function topAxis(gen,y,fmt){const g=svg.append("g").attr("transform",`translate(0,${y})`).call(gen(xL).tickValues([20,26,32]).tickSize(0).tickPadding(0).tickFormat(fmt));g.select(".domain").remove();g.selectAll("text").attr("font-size",12).attr("fill","#000").style("font-family",'"Liberation Sans"');}
const localLbl=["20","02","08"],utcLbl=["18","00","06"];
topAxis(d3.axisTop,53,(d,i)=>localLbl[i]);
topAxis(d3.axisBottom,604,(d,i)=>utcLbl[i]);

// ---------- legend ----------
const DR="#b22222",RD="#ff0000",BL="#0000ff",DB="#000090",GR="#00a000",OR="#f04a10",OV="#ff8c00";
T("Czas lokalny",6,15,"#000");T("(CET/CEST)",6,26,"#000");L([[68,16],[133,16],[157,46]],"#000");
T("Temperatura gruntu",6,42,DR);T("max/min",28,52,DR);L([[102,43],[118,43],[155,100]],DR);
T("Temperatura:",6,64,"#000");T("punkt środkowy",13,76,RD);L([[92,76],[117,76]],RD);L([[130,76],[135,76],[155,103]],RD);
T("max/min",28,86,"#ffdcd0");T("odczuwana",10,98,BL);L([[70,99],[135,99]],BL);T("max/min",28,108,"#9fdcff");
T("Temp. punktu rosy",6,120,"#6a5acd");L([[94,120],[120,120],[135,113]],"#6a5acd");
T("Opad powyżej skali",6,137,RD);L([[103,137],[135,137],[145,146]],RD);
T("Wilgotność względna",6,151,OR);L([[106,151],[112,151]],OR);L([[130,151],[145,165]],OR);
T("Wystąpienie burzy",6,165,"#000");L([[104,166],[112,166]],"#000");L([[129,166],[136,172]],"#000");
T("Deszcz: max",6,179,GR);L([[71,179],[139,179]],GR);T("średni",49,190,GR);L([[80,190],[140,190]],GR);
T("Śnieg:",6,201,"#2030d0");T("max",49,201,"#2030d0");L([[70,201],[112,201]],"#2030d0");L([[128,203],[160,172]],"#2030d0");
T("średni",49,212,"#2030d0");L([[81,212],[135,212],[160,185]],"#2030d0");
T("Wystąpienie opadu",5,224,RD);L([[95,224],[140,224],[146,220]],RD);T("konwekcyjnego",5,237,RD);
T("Ciśnienie",5,263,"#000");L([[52,263],[130,263],[135,261]],"#000");T("zredukowane",5,276,"#000");T("do poziomu morza",5,289,"#000");
T("Wiatr na 10m:",5,318,"#000");
T("poryw powyżej skali",10,334,RD);L([[112,334],[118,334]],RD);L([[130,334],[138,316]],RD);
T("max porywy wiatru",10,348,RD);L([[106,348],[130,348],[145,340]],RD);
T("prędkość wiatru",10,368,DB);L([[92,367],[135,367]],DB);T("w środku obszaru",10,381,DB);
T("kierunek wiatru",10,409,DB);L([[86,410],[135,410]],DB);
T("Wierzchołek chmur",6,429,DR);L([[100,430],[135,430],[185,448]],DR);
T("Podstawa chmur*",6,445,"#000");T("o pokryciu",6,456,"#000");
T("> 7.9 okt.",11,468,"#000");L([[57,468],[135,468],[190,455]],"#000");
T("> 6.5 okt.",11,479,"#505050");L([[55,480],[143,480]],"#505050");
T("> 4.5 okt.",10,490,"#999");L([[55,491],[130,491],[138,499]],"#999");
T("> 2.5 okt.",10,500,"#d8d8d8");L([[55,502],[130,502],[138,505]],"#d8d0c8");
svg.append("rect").attr("x",11).attr("y",505).attr("width",44).attr("height",12).attr("fill",SKY);
T("> 0.1 okt.",12,511,"#fff");L([[55,510],[130,510]],SKY);L([[55,512],[130,512]],SKY);
T("Widzialność",6,526,OV);L([[67,527],[128,527],[172,463]],OV);
T("Chmury:",6,543,"#000");
svg.append("rect").attr("x",10).attr("y",551).attr("width",41).attr("height",12).attr("fill",SKY);
T("wysokie",11,557,"#fff");L([[54,556],[186,556]],SKY);L([[54,558],[186,558]],SKY);
T("średnie",10,570,"#999");L([[50,571],[192,571]],"#999");
T("niskie",10,581,"#505050");L([[40,582],[122,582]],"#505050");L([[133,582],[147,582]],"#505050");
T("bardzo niskie",10,593,"#222");L([[74,594],[150,594]],"#222");
T("Mgła",6,605,"#ffb400");L([[27,605],[216,605],[218,600]],"#ffb400");
T("Czas uniwersalny (UTC)",6,622,"#000");L([[139,623],[148,623],[158,608]],"#000");
T("* powyżej poziomu morza",6,648,"#000",{s:9.5,w:700});
</script></body></html>
